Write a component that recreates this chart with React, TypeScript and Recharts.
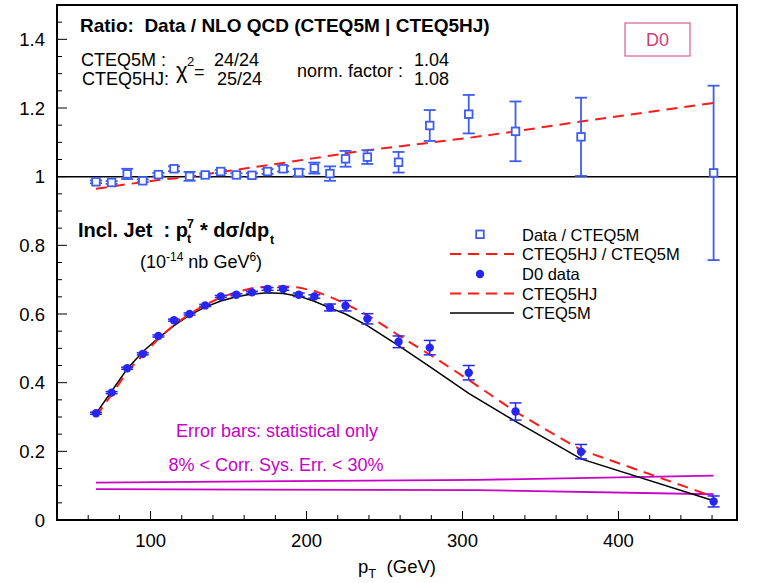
import {
  ComposedChart,
  XAxis,
  YAxis,
  Line,
  Scatter,
  ErrorBar,
  ReferenceLine,
  ReferenceArea,
} from "recharts";

// jet pT bins (GeV)
const PT = [65, 75, 85, 95, 105, 115, 125, 135, 145, 155, 165, 175, 185, 195, 205, 215, 225, 239, 259, 279, 304, 334, 376, 461];

// upper part: Data / CTEQ5M
const RATIO = [0.985, 0.983, 1.008, 0.988, 1.006, 1.023, 1.001, 1.005, 1.015, 1.005, 1.004, 1.015, 1.023, 1.012, 1.025, 1.009, 1.052, 1.057, 1.042, 1.149, 1.182, 1.132, 1.116, 1.011];
const RATIO_ERR = [0.004, 0.004, 0.015, 0.004, 0.005, 0.007, 0.013, 0.004, 0.005, 0.005, 0.006, 0.007, 0.008, 0.01, 0.016, 0.021, 0.023, 0.02, 0.03, 0.045, 0.056, 0.087, 0.114, 0.254];
// CTEQ5HJ / CTEQ5M
const HJ_RATIO = [0.965, 0.971, 0.978, 0.984, 0.99, 0.995, 1.0, 1.007, 1.014, 1.02, 1.027, 1.033, 1.04, 1.047, 1.054, 1.061, 1.068, 1.077, 1.088, 1.099, 1.113, 1.132, 1.161, 1.215];

// lower part: pt^7 * dsigma/dpt
const D0 = [0.311, 0.371, 0.442, 0.484, 0.536, 0.582, 0.6, 0.625, 0.651, 0.656, 0.663, 0.673, 0.673, 0.656, 0.651, 0.619, 0.624, 0.586, 0.519, 0.502, 0.429, 0.316, 0.199, 0.054];
const D0_ERR = [0.003, 0.003, 0.003, 0.003, 0.003, 0.003, 0.003, 0.003, 0.003, 0.003, 0.003, 0.004, 0.004, 0.005, 0.005, 0.01, 0.015, 0.015, 0.017, 0.021, 0.021, 0.025, 0.021, 0.016];
const CTEQ5M = [0.31, 0.375, 0.44, 0.49, 0.53, 0.566, 0.597, 0.62, 0.638, 0.65, 0.658, 0.662, 0.66, 0.652, 0.637, 0.618, 0.6, 0.566, 0.508, 0.447, 0.369, 0.287, 0.178, 0.056];
const CTEQ5HJ = [0.302, 0.365, 0.432, 0.48, 0.528, 0.568, 0.6, 0.627, 0.648, 0.664, 0.675, 0.68, 0.681, 0.677, 0.667, 0.65, 0.63, 0.597, 0.538, 0.482, 0.408, 0.315, 0.204, 0.068];

// correlated systematic error band
const SYS_PT = [65, 310, 461];
const SYS_HI = [0.109, 0.117, 0.129];
const SYS_LO = [0.09, 0.087, 0.075];

const X_TICKS = [60, 80, 100, 120, 140, 160, 180, 200, 220, 240, 260, 280, 300, 320, 340, 360, 380, 400, 420, 440, 460];
const X_LABELS = [100, 200, 300, 400];
const Y_TICKS = [0, 0.05, 0.1, 0.15, 0.2, 0.25, 0.3, 0.35, 0.4, 0.45, 0.5, 0.55, 0.6, 0.65, 0.7, 0.75, 0.8, 0.85, 0.9, 0.95, 1, 1.05, 1.1, 1.15, 1.2, 1.25, 1.3, 1.35, 1.4, 1.45];
const Y_LABELS = [0, 0.2, 0.4, 0.6, 0.8, 1, 1.2, 1.4];

const FONT = "'Liberation Sans', Arial, Helvetica, sans-serif";
const SQ_BLUE = "#3c5cf2";
const DOT_BLUE = "#2626f0";
const RED = "#ff1a1a";
const MAGENTA = "#c800c8";

const pts = (ys: number[], xs: number[] = PT) => xs.map((x, i) => ({ x, y: ys[i] }));
const ratioData = PT.map((x, i) => ({ x, y: RATIO[i], e: RATIO_ERR[i] }));
const d0Data = PT.map((x, i) => ({ x, y: D0[i], e: D0_ERR[i] }));

const XTick = (p: any) => {
  const v = p.payload.value;
  const major = X_LABELS.includes(v);
  return (
    <g>
      <line x1={p.x} x2={p.x} y1={p.y} y2={p.y - (major ? 9 : 5)} stroke="#000" strokeWidth={1} />
      {major && (
        <text x={p.x} y={p.y + 27} textAnchor="middle" fontSize={18.5} fontFamily={FONT} fill="#000">
          {v}
        </text>
      )}
    </g>
  );
};

const YTick = (p: any) => {
  const v = p.payload.value;
  const major = Y_LABELS.includes(v);
  return (
    <g>
      <line x1={p.x} x2={p.x + (major ? 10 : 5)} y1={p.y} y2={p.y} stroke="#000" strokeWidth={1} />
      {major && (
        <text x={p.x - 12} y={p.y + 6.5} textAnchor="end" fontSize={18.5} fontFamily={FONT} fill="#000">
          {String(v)}
        </text>
      )}
    </g>
  );
};

const Square = (p: any) => (
  <rect x={p.cx - 3.8} y={p.cy - 3.8} width={7.6} height={7.6} fill="#fff" stroke={SQ_BLUE} strokeWidth={1.8} />
);
const Dot = (p: any) => <circle cx={p.cx} cy={p.cy} r={4.2} fill={DOT_BLUE} />;

function Overlay() {
  const t = { fontFamily: FONT, fill: "#000", whiteSpace: "pre" as const };
  return (
    <svg width={757} height={583} style={{ position: "absolute", left: 0, top: 0, pointerEvents: "none" }}>
      <text x={80} y={32} fontSize={19} fontWeight="bold" style={t}>
        Ratio:  Data / NLO QCD (CTEQ5M | CTEQ5HJ)
      </text>
      <text x={81} y={66} fontSize={18} style={t}>CTEQ5M :</text>
      <text x={82} y={85} fontSize={18} style={t}>CTEQ5HJ:</text>
      <text x={176} y={78} fontSize={22} style={t}>χ</text>
      <text x={187} y={66} fontSize={13} style={t}>2</text>
      <text x={194} y={78} fontSize={18} style={t}>=</text>
      <text x={214} y={66} fontSize={18} style={t}>24/24</text>
      <text x={217} y={85} fontSize={18} style={t}>25/24</text>
      <text x={297} y={77} fontSize={18} style={t}>norm. factor :</text>
      <text x={414} y={66} fontSize={18} style={t}>1.04</text>
      <text x={414} y={85} fontSize={18} style={t}>1.08</text>

      <rect x={625} y={23} width={65} height={33} fill="#fff" stroke="#d03c78" strokeWidth={1} />
      <text x={657.5} y={46} fontSize={18} textAnchor="middle" style={{ ...t, fill: "#d03c78" }}>D0</text>

      <text x={78} y={237} fontSize={20} fontWeight="bold" style={t}>Incl. Jet  : p</text>
      <text x={187} y={228} fontSize={12.5} fontWeight="bold" style={t}>7</text>
      <text x={187} y={243} fontSize={12.5} fontWeight="bold" style={t}>t</text>
      <text x={200} y={237} fontSize={20} fontWeight="bold" style={t}>* dσ/dp</text>
      <text x={270} y={244} fontSize={12.5} fontWeight="bold" style={t}>t</text>
      <text x={140} y={268} fontSize={18} style={t}>
        (10
        <tspan dy={-7} fontSize={12}>-14</tspan>
        <tspan dy={7}> nb GeV</tspan>
        <tspan dy={-7} fontSize={12}>6</tspan>
        <tspan dy={7}>)</tspan>
      </text>

      {/* legend */}
      <rect x={476.2} y={230.5} width={7.6} height={7.6} fill="#fff" stroke={SQ_BLUE} strokeWidth={1.8} />
      <text x={522} y={241} fontSize={16.5} style={t}>Data / CTEQ5M</text>
      <line x1={450} x2={514} y1={254} y2={254} stroke={RED} strokeWidth={2} strokeDasharray="11 7" />
      <text x={522} y={260} fontSize={16.5} style={t}>CTEQ5HJ / CTEQ5M</text>
      <circle cx={480} cy={274} r={4.2} fill={DOT_BLUE} />
      <text x={522} y={280} fontSize={16.5} style={t}>D0 data</text>
      <line x1={450} x2={514} y1={293.5} y2={293.5} stroke={RED} strokeWidth={2} strokeDasharray="11 7" />
      <text x={522} y={299.5} fontSize={16.5} style={t}>CTEQ5HJ</text>
      <line x1={450} x2={514} y1={313} y2={313} stroke="#000" strokeWidth={1.5} />
      <text x={522} y={319} fontSize={16.5} style={t}>CTEQ5M</text>

      <text x={277} y={437} fontSize={18} textAnchor="middle" style={{ ...t, fill: MAGENTA }}>
        Error bars: statistical only
      </text>
      <text x={276} y={471} fontSize={18} textAnchor="middle" style={{ ...t, fill: MAGENTA }}>
        8% &lt; Corr. Sys. Err. &lt; 30%
      </text>

      <text x={397} y={573} fontSize={18.5} textAnchor="middle" style={t}>
        p<tspan dy={5} fontSize={13}>T</tspan>
        <tspan dy={-5}>  (GeV)</tspan>
      </text>
    </svg>
  );
}

export default function App() {
  return (
    <div style={{ position: "absolute", left: 0, top: 0, width: 757, height: 583, background: "#fff" }}>
      <ComposedChart width={757} height={583} margin={{ top: 5, right: 20, bottom: 0, left: 0 }}>
        <XAxis
          dataKey="x"
          type="number"
          domain={[40, 476]}
          ticks={X_TICKS}
          interval={0}
          tick={<XTick />}
          tickSize={0}
          tickMargin={0}
          axisLine={false}
          height={63}
        />
        <YAxis
          dataKey="y"
          type="number"
          domain={[0, 1.5]}
          ticks={Y_TICKS}
          interval={0}
          tick={<YTick />}
          tickSize={0}
          tickMargin={0}
          axisLine={false}
          width={57}
        />
        <ReferenceArea x1={40} x2={476} y1={0} y2={1.5} fill="none" stroke="#000" strokeWidth={2} />
        <ReferenceLine y={1} stroke="#000" strokeWidth={1.5} />

        <Line data={pts(SYS_HI, SYS_PT)} dataKey="y" type="linear" stroke={MAGENTA} strokeWidth={1.8} dot={false} isAnimationActive={false} />
        <Line data={pts(SYS_LO, SYS_PT)} dataKey="y" type="linear" stroke={MAGENTA} strokeWidth={1.8} dot={false} isAnimationActive={false} />
        <Line data={pts(CTEQ5M)} dataKey="y" type="linear" stroke="#000" strokeWidth={1.5} dot={false} isAnimationActive={false} />
        <Line data={pts(CTEQ5HJ)} dataKey="y" type="linear" stroke={RED} strokeWidth={2} strokeDasharray="11 7" dot={false} isAnimationActive={false} />
        <Line data={pts(HJ_RATIO)} dataKey="y" type="linear" stroke={RED} strokeWidth={2} strokeDasharray="11 7" dot={false} isAnimationActive={false} />

        <Scatter data={ratioData} dataKey="y" shape={<Square />} isAnimationActive={false}>
          <ErrorBar dataKey="e" direction="y" width={6} stroke={SQ_BLUE} strokeWidth={1.8} />
        </Scatter>
        <Scatter data={d0Data} dataKey="y" shape={<Dot />} isAnimationActive={false}>
          <ErrorBar dataKey="e" direction="y" width={6} stroke={DOT_BLUE} strokeWidth={1.5} />
        </Scatter>
      </ComposedChart>
      <Overlay />
    </div>
  );
}
